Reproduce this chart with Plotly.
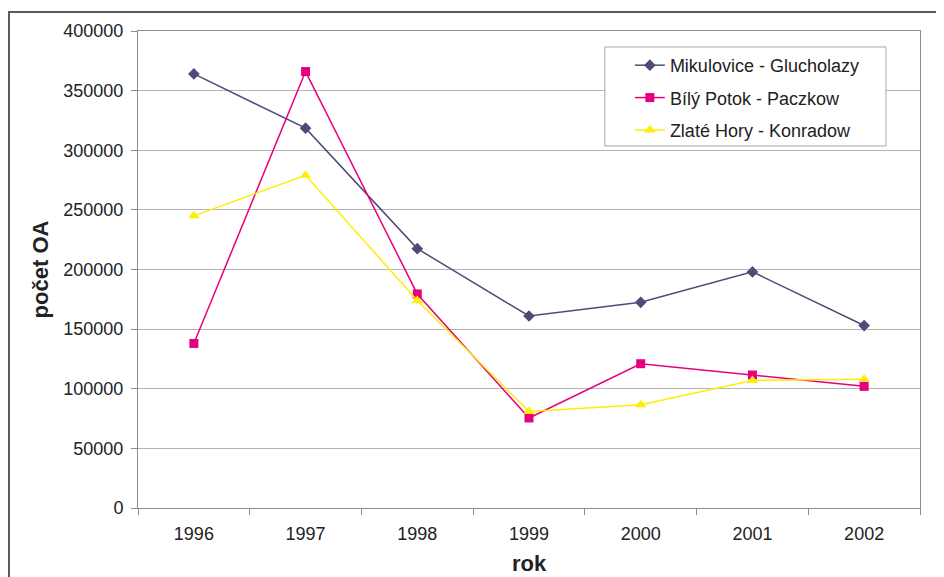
import plotly.graph_objects as go

roky = ["1996", "1997", "1998", "1999", "2000", "2001", "2002"]
mikulovice = [364000, 318500, 217500, 161000, 172500, 198000, 153000]
bily_potok = [138000, 366000, 179500, 75500, 121000, 111500, 102000]
zlate_hory = [245000, 279000, 174000, 81000, 86500, 107000, 108000]

colors = {
    'M': '#4f4b78',
    'B': '#e6007e',
    'Z': '#ffee00',
    'grid': '#b4b4b4',
    'axis': '#8c8c8c',
    'text': '#222222',
}

fig = go.Figure()
fig.add_trace(go.Scatter(x=roky, y=mikulovice, name="Mikulovice - Glucholazy",
                         mode="lines+markers", legendgroup="m",
                         line=dict(color=colors['M'], width=1.5),
                         marker=dict(symbol="diamond", size=9, color=colors['M'])))
fig.add_trace(go.Scatter(x=roky, y=bily_potok, name="Bílý Potok - Paczkow",
                         mode="lines+markers", legendgroup="b",
                         line=dict(color=colors['B'], width=1.5),
                         marker=dict(symbol="square", size=9, color=colors['B'])))
fig.add_trace(go.Scatter(x=roky, y=zlate_hory, name="Zlaté Hory - Konradow",
                         mode="lines+markers", legendgroup="z",
                         line=dict(color=colors['Z'], width=1.5),
                         marker=dict(symbol="triangle-up", size=10, color=colors['Z'])))

# stránka má okraj 8 px, proto je figura o 8 px menší
fig.update_layout(
    width=936, height=569,
    margin=dict(l=130, r=24, t=23, b=69, autoexpand=False),
    paper_bgcolor="white", plot_bgcolor="white",
    font=dict(family="Liberation Sans, Arial", size=18, color=colors['text']),
    showlegend=True,
    legend=dict(x=0.629, y=0.9665, xanchor="left", yanchor="top",
                borderwidth=0, bgcolor="rgba(0,0,0,0)",
                font=dict(size=18), itemwidth=30, tracegroupgap=6),
    xaxis=dict(type="category", range=[-0.5, 6.5], tickson="boundaries",
               ticks="outside", ticklen=6, tickcolor=colors['axis'],
               ticklabelstandoff=9, automargin=False,
               showline=True, linecolor=colors['axis'], linewidth=1, mirror=True,
               showgrid=False,
               title=dict(text="<b>rok</b>", standoff=13)),
    yaxis=dict(range=[0, 400000], dtick=50000, tickformat="d",
               ticks="outside", ticklen=6, tickcolor=colors['axis'],
               ticklabelstandoff=4, automargin=False,
               showline=True, linecolor=colors['axis'], linewidth=1, mirror=True,
               showgrid=True, gridcolor=colors['grid'], gridwidth=1,
               zeroline=False,
               title=dict(text="<b>počet OA</b>", standoff=8)),
)

# rámeček legendy
fig.add_shape(type="rect", xref="paper", yref="paper",
              x0=0.597, x1=0.9565, y0=0.759, y1=0.9665,
              line=dict(color="#a8a8a8", width=1), fillcolor="white", layer="above")

# vnější rámeček grafu (jen levá a horní hrana je vidět)
fig.add_shape(type="rect", xref="paper", yref="paper",
              x0=-0.1650, x1=1.2, y0=-0.3, y1=1.0398,
              line=dict(color="#5a5a5a", width=2), layer="below")

fig.write_html("out.html")
